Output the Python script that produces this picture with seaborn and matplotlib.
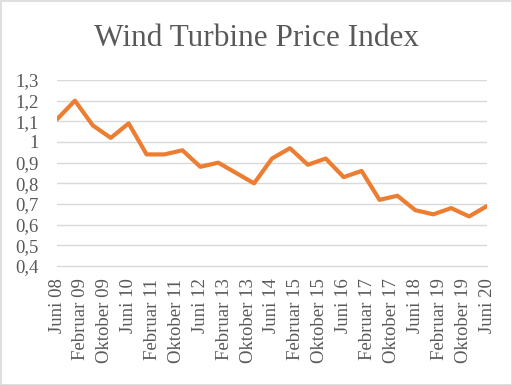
import matplotlib
matplotlib.use("Agg")
import matplotlib.pyplot as plt
import seaborn as sns
import pandas as pd
from matplotlib.patches import Rectangle

# Semi-annual observations, Juni 08 .. Juni 20 (month offsets from Juni 08)
months = list(range(0, 145, 6))
values = [1.11, 1.20, 1.08, 1.02, 1.09, 0.94, 0.94, 0.96, 0.88, 0.90, 0.85, 0.80,
          0.92, 0.97, 0.89, 0.92, 0.83, 0.86, 0.72, 0.74, 0.67, 0.65, 0.68, 0.64, 0.69]
tick_months = list(range(0, 145, 8))
tick_labels = ["Juni 08", "Februar 09", "Oktober 09", "Juni 10", "Februar 11", "Oktober 11",
               "Juni 12", "Februar 13", "Oktober 13", "Juni 14", "Februar 15", "Oktober 15",
               "Juni 16", "Februar 17", "Oktober 17", "Juni 18", "Februar 19", "Oktober 19",
               "Juni 20"]
y_ticks = [0.4, 0.5, 0.6, 0.7, 0.8, 0.9, 1.0, 1.1, 1.2, 1.3]
y_labels = ["0,4", "0,5", "0,6", "0,7", "0,8", "0,9", "1", "1,1", "1,2", "1,3"]
title = "Wind Turbine Price Index"

sns.set_style("white")
plt.rcParams["font.family"] = ["Liberation Serif", "DejaVu Serif"]

df = pd.DataFrame({"month": months, "value": values})

fig = plt.figure(figsize=(5.12, 3.85), dpi=100)
ax = fig.add_axes([57/512, 1-266/385, (487-57)/512, (266-80)/385])

grid_c = "#d9d9d9"
txt_c = "#595959"

sns.lineplot(data=df, x="month", y="value", ax=ax, color="#ED7D31", linewidth=3.0, zorder=3)

ax.set_xlim(0, 144)
ax.set_ylim(0.4, 1.3)
ax.set_yticks(y_ticks)
ax.set_yticklabels(y_labels)
ax.set_xticks(tick_months)
ax.set_xticklabels(tick_labels, rotation=90)
ax.set_xlabel("")
ax.set_ylabel("")
for y in y_ticks[1:]:
    ax.axhline(y, color=grid_c, linewidth=1.0, zorder=1)
for s in ["top", "right", "left"]:
    ax.spines[s].set_visible(False)
ax.spines["bottom"].set_color(grid_c)
ax.spines["bottom"].set_linewidth(1.0)
ax.tick_params(axis="x", direction="out", length=5, width=1, color=grid_c,
               labelsize=13.5, labelcolor=txt_c, pad=4)
ax.tick_params(axis="y", length=0, labelsize=13.5, labelcolor=txt_c, pad=13)

fig.text(0.5, 1-38/385, title, ha="center", va="center", fontsize=22.5, color=txt_c)

fig.patches.append(Rectangle((0.5/512, 0.5/385), 1-1/512, 1-1/385, transform=fig.transFigure,
                             fill=False, edgecolor=grid_c, linewidth=1.2))

fig.savefig("out.png", dpi=100)
